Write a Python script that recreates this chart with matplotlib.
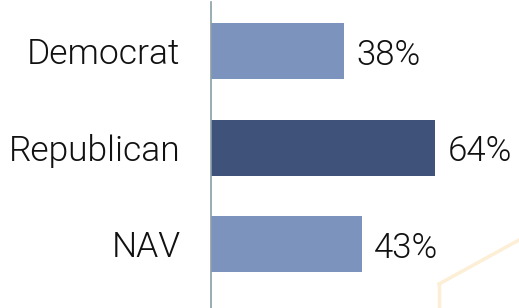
import matplotlib
matplotlib.use('Agg')
import matplotlib.pyplot as plt
from matplotlib.lines import Line2D

# ================= 数据 =================
categories = ['Democrat', 'Republican', 'NAV']
values = [38, 64, 43]
bar_colors = ['#7B93BD', '#3E527A', '#7B93BD']

plt.rcParams['font.family'] = ['Roboto', 'DejaVu Sans']

W, H = 519, 308
fig = plt.figure(figsize=(W / 100, H / 100), dpi=100)
# 轴区域：左边界 x=211px，上边界 y=2px
ax = fig.add_axes([211 / W, 0, 1 - 211 / W, 306 / H])
ax.patch.set_visible(False)

pos = list(range(len(categories)))
ax.barh(pos, values, height=0.58, color=bar_colors, zorder=2)
ax.set_xlim(0, 88)
ax.set_ylim(2.663, -0.508)

for y, v in zip(pos, values):
    ax.text(v + 3.5, y + 0.04, f'{v}%', va='center', ha='left', fontsize=25,
            color='#111111', fontweight=300)

ax.set_yticks(pos)
ax.set_yticklabels(categories, fontsize=25.5, color='#111111', fontweight=300)
ax.tick_params(axis='y', length=0, pad=22)
ax.set_xticks([])
for s in ['top', 'right', 'bottom']:
    ax.spines[s].set_visible(False)
ax.spines['left'].set_color('#8AA0A5')
ax.spines['left'].set_linewidth(1.2)

# 背景装饰（淡橙色六边形的一角）
fig.add_artist(Line2D([439 / W, 1.0], [1 - 284 / H, 1 - 240 / H], transform=fig.transFigure,
                      color='#FDEED6', lw=2.5, zorder=0))
fig.add_artist(Line2D([439 / W, 439 / W], [1 - 284 / H, 0], transform=fig.transFigure,
                      color='#FDEED6', lw=2.5, zorder=0))

fig.savefig('out.png', dpi=100)
